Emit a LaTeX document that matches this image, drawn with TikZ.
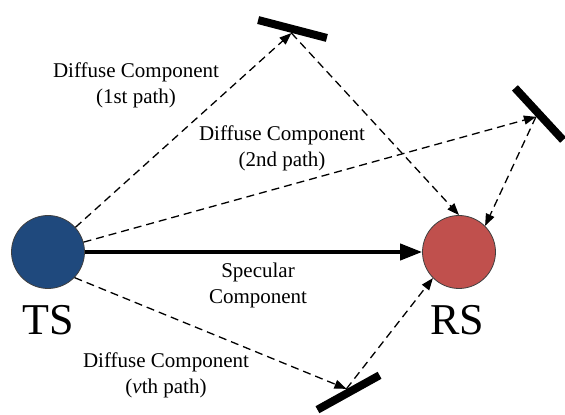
\documentclass[tikz,border=0pt]{standalone}
\usepackage{fontspec}
\setmainfont{Liberation Serif}
\usetikzlibrary{arrows.meta,positioning}
\definecolor{tsblue}{RGB}{31,73,125}
\definecolor{rsred}{RGB}{192,80,77}
\definecolor{edgegray}{RGB}{64,64,64}

\tikzset{
  station/.style={circle, draw=edgegray, line width=0.8pt, minimum size=73pt, inner sep=0pt},
  stlabel/.style={font=\fontsize{44}{48}\selectfont, inner sep=0pt},
  mirror/.style={fill=black, minimum width=71pt, minimum height=8pt, inner sep=0pt},
  comp/.style={font=\fontsize{21}{26}\selectfont, align=center, inner sep=0pt},
  diffuse/.style={dash pattern=on 8pt off 5pt, line width=1.3pt, -{Triangle[length=12pt,width=9pt]}},
  specular/.style={line width=4pt, -{Triangle[length=22pt,width=16pt]}}
}

\begin{document}
\begin{tikzpicture}[x=1pt,y=1pt]
  \useasboundingbox (0,0) rectangle (565,415);
  % stations
  \node[station, fill=tsblue] (ts) at (48,163) {};
  \node[station, fill=rsred] (rs) at (459,163) {};
  \node[stlabel] (tslabel) at (48,94.5) {TS};
  \node[stlabel] (rslabel) at (457.5,94.5) {RS};
  % reflectors
  \node[mirror, rotate=-14.6] (m1) at (292.5,386) {};
  \node[mirror, rotate=-47.3] (m2) at (539,301) {};
  \node[mirror, rotate=29] (mv) at (348.5,22.5) {};
  % direct path
  \draw[specular] (ts) -- (rs.west);
  % diffuse paths
  \draw[diffuse] (ts) -- (m1.south);
  \draw[diffuse] (m1.south) -- (rs.north);
  \draw[diffuse] (ts) -- (m2.south);
  \draw[diffuse] (m2.south) -- (rs.45);
  \draw[diffuse] (ts.-44) -- (mv.north);
  \draw[diffuse] (mv.north) -- (rs.225);
  % labels
  \node[comp] (d1) at (136,330) {Diffuse Component\\(1st path)};
  \node[comp] (d2) at (282,267) {Diffuse Component\\(2nd path)};
  \node[comp] (spec) at (258,130) {Specular\\Component};
  \node[comp] (dv) at (166,40) {Diffuse Component\\(\textit{v}th path)};
\end{tikzpicture}
\end{document}
